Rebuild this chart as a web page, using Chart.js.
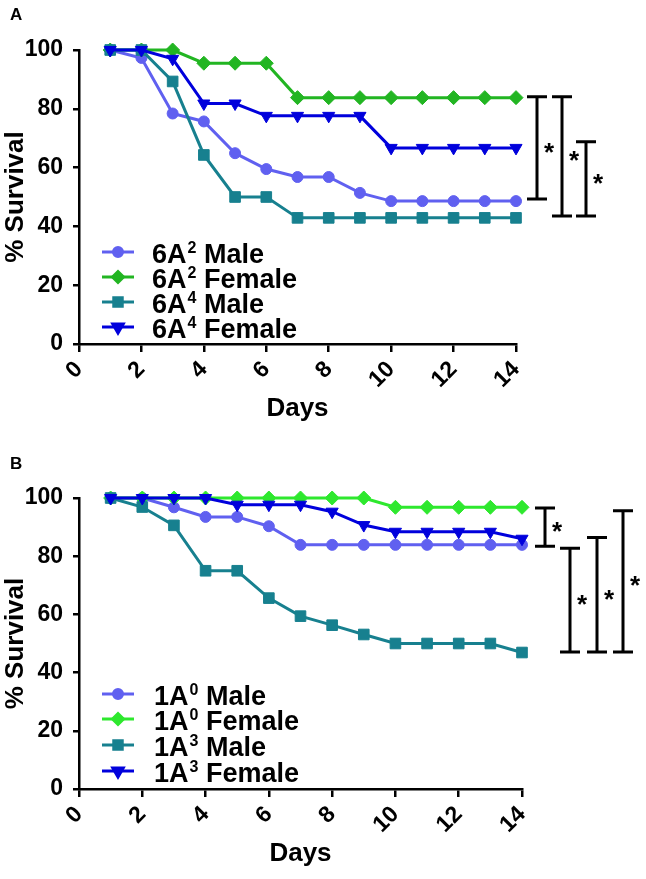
<!DOCTYPE html>
<html lang="en">
<head>
<meta charset="UTF-8">
<title>Survival - 6A and 1A lines</title>
<script src="https://cdn.jsdelivr.net/npm/chart.js"></script>
<style>
    body {
        margin: 0;
        background: #fff;
        width: 646px;
        height: 879px;
        position: relative;
        overflow: hidden;
        font-family: "Liberation Sans", Arial, sans-serif;
    }
    .panel { position: absolute; left: 0; width: 646px; }
    .letter {
        position: absolute;
        left: 10px;
        z-index: 2;
        font-weight: bold;
        font-size: 17px;
        line-height: 17px;
    }
</style>
</head>
<body>
<div class="panel" style="top:0;height:440px"><canvas id="chartA" width="646" height="440"></canvas></div>
<div class="panel" style="top:440px;height:439px"><canvas id="chartB" width="646" height="439"></canvas></div>
<div class="letter" style="top:6px">A</div>
<div class="letter" style="top:455px">B</div>

<script>
var FONT = '"Liberation Sans", Arial, sans-serif';

// days after infection
var days = [1, 2, 3, 4, 5, 6, 7, 8, 9, 10, 11, 12, 13, 14];

// panel A (% survival)
var a2Male   = [100, 97.3, 78.4, 75.7, 64.9, 59.5, 56.8, 56.8, 51.4, 48.6, 48.6, 48.6, 48.6, 48.6];
var a2Female = [100, 100, 100, 95.5, 95.5, 95.5, 83.8, 83.8, 83.8, 83.8, 83.8, 83.8, 83.8, 83.8];
var a4Male   = [100, 100, 89.3, 64.3, 50, 50, 42.9, 42.9, 42.9, 42.9, 42.9, 42.9, 42.9, 42.9];
var a4Female = [100, 100, 97, 81.8, 81.8, 77.6, 77.6, 77.6, 77.6, 66.7, 66.7, 66.7, 66.7, 66.7];
var legendA  = [['6A', '2', ' Male'], ['6A', '2', ' Female'], ['6A', '4', ' Male'], ['6A', '4', ' Female']];
// significance bars: [top, bottom] in % survival
var barsA = [[84.1, 49.3], [84.1, 43.5], [68.8, 43.5]];

// panel B (% survival)
var b0Male   = [100, 100, 96.8, 93.5, 93.5, 90.3, 83.9, 83.9, 83.9, 83.9, 83.9, 83.9, 83.9, 83.9];
var b0Female = [100, 100, 100, 100, 100, 100, 100, 100, 100, 96.8, 96.8, 96.8, 96.8, 96.8];
var b3Male   = [100, 96.9, 90.6, 75, 75, 65.6, 59.4, 56.3, 53.1, 50, 50, 50, 50, 46.9];
var b3Female = [100, 100, 100, 100, 97.7, 97.7, 97.7, 95.3, 90.7, 88.4, 88.4, 88.4, 88.4, 86.0];
var legendB  = [['1A', '0', ' Male'], ['1A', '0', ' Female'], ['1A', '3', ' Male'], ['1A', '3', ' Female']];
var barsB = [[96.6, 83.4], [82.7, 47.1], [86.4, 47.1], [95.6, 47.1]];

var styles = [
    { pointStyle: 'circle',   radius: 5.5, rotation: 0,   legendRadius: 4.5 },
    { pointStyle: 'rectRot',  radius: 7,   rotation: 0,   legendRadius: 5.5 },
    { pointStyle: 'rect',     radius: 7.5, rotation: 0,   legendRadius: 6 },
    { pointStyle: 'triangle', radius: 7,   rotation: 180, legendRadius: 6 }
];

function makeSeries(label, values, color, st, order) {
    return {
        label: label,
        data: days.map(function (d, i) { return { x: d, y: values[i] }; }),
        borderColor: color,
        backgroundColor: color,
        pointBackgroundColor: color,
        pointBorderColor: color,
        pointStyle: st.pointStyle,
        pointRadius: st.radius,
        pointRotation: st.rotation,
        pointBorderWidth: 1,
        borderWidth: 3,
        tension: 0,
        clip: false,
        order: order
    };
}

// legend drawn inside the plot, line + marker + label with superscript
var insideLegend = {
    id: 'insideLegend',
    afterDraw: function (chart) {
        var cfg = chart.options.plugins.insideLegend;
        var ctx = chart.ctx;
        ctx.save();
        chart.data.datasets.forEach(function (ds, i) {
            var y = cfg.rows[i];
            var st = styles[i];
            ctx.strokeStyle = ds.borderColor;
            ctx.fillStyle = ds.borderColor;
            ctx.lineWidth = 3;
            ctx.beginPath();
            ctx.moveTo(cfg.x1, y);
            ctx.lineTo(cfg.x2, y);
            ctx.stroke();
            Chart.helpers.drawPoint(ctx, {
                pointStyle: st.pointStyle, rotation: st.rotation,
                radius: st.legendRadius, borderWidth: 1
            }, (cfg.x1 + cfg.x2) / 2, y);

            var parts = cfg.labels[i];
            var base = y + 11;
            var tx = cfg.textX;
            ctx.fillStyle = '#000';
            ctx.textBaseline = 'alphabetic';
            ctx.textAlign = 'left';
            ctx.font = 'bold 27px ' + FONT;
            ctx.fillText(parts[0], tx, base);
            tx += ctx.measureText(parts[0]).width + 1;
            ctx.font = 'bold 16px ' + FONT;
            ctx.fillText(parts[1], tx, base - 10);
            tx += ctx.measureText(parts[1]).width;
            ctx.font = 'bold 27px ' + FONT;
            ctx.fillText(parts[2], tx, base);
        });
        ctx.restore();
    }
};

// significance bars to the right of the plot
var sigBars = {
    id: 'sigBars',
    afterDraw: function (chart) {
        var cfg = chart.options.plugins.sigBars;
        var ys = chart.scales.y;
        var ctx = chart.ctx;
        ctx.save();
        ctx.strokeStyle = '#000';
        ctx.fillStyle = '#000';
        ctx.lineWidth = 3;
        cfg.bars.forEach(function (b, i) {
            var x = chart.chartArea.right + cfg.offsets[i];
            var y1 = ys.getPixelForValue(b[0]);
            var y2 = ys.getPixelForValue(b[1]);
            ctx.beginPath();
            ctx.moveTo(x, y1); ctx.lineTo(x, y2);
            ctx.moveTo(x - 10, y1); ctx.lineTo(x + 10, y1);
            ctx.moveTo(x - 10, y2); ctx.lineTo(x + 10, y2);
            ctx.stroke();
            ctx.font = 'bold 26px ' + FONT;
            ctx.textAlign = 'center';
            ctx.textBaseline = 'alphabetic';
            ctx.fillText('*', x + 12, (y1 + y2) / 2 + 13);
        });
        ctx.restore();
    }
};

function makePanel(id, series, colors, legendLabels, bars, lay) {
    var ctx = document.getElementById(id).getContext('2d');
    var datasets = series.map(function (vals, i) {
        return makeSeries(legendLabels[i].join(''), vals, colors[i], styles[i], 4 - i);
    });
    var axisFont = { family: FONT, size: 23, weight: 'bold' };
    var titleFont = { family: FONT, size: 26, weight: 'bold' };
    return new Chart(ctx, {
        type: 'line',
        data: { datasets: datasets },
        options: {
            responsive: false,
            animation: false,
            layout: { padding: { top: lay.padTop, right: lay.padRight, left: 0, bottom: 0 } },
            plugins: {
                legend: { display: false },
                tooltip: { enabled: false },
                insideLegend: { rows: lay.legendRows, x1: 102, x2: 134, textX: lay.textX, labels: legendLabels },
                sigBars: { bars: bars, offsets: lay.barOffsets }
            },
            scales: {
                x: {
                    type: 'linear',
                    min: 0,
                    max: 14,
                    border: { display: true, color: '#000', width: 2.5 },
                    grid: { display: true, drawOnChartArea: false, drawTicks: true, tickLength: 8, color: '#000', lineWidth: 2.5 },
                    ticks: { stepSize: 2, autoSkip: false, minRotation: 45, maxRotation: 45, padding: 4, color: '#000', font: axisFont },
                    title: { display: true, text: 'Days', color: '#000', font: titleFont, padding: { top: 0, bottom: lay.xTitlePad } },
                    afterFit: function (s) { s.height = lay.xHeight; }
                },
                y: {
                    min: 0,
                    max: 100,
                    border: { display: true, color: '#000', width: 2.5 },
                    grid: { display: true, drawOnChartArea: false, drawTicks: true, tickLength: 6, color: '#000', lineWidth: 2.5 },
                    ticks: { stepSize: 20, padding: 10, color: '#000', font: axisFont },
                    title: { display: true, text: '% Survival', color: '#000', font: titleFont, padding: { top: 0, bottom: 0 } },
                    afterFit: function (s) { s.width = 79; }
                }
            }
        },
        plugins: [insideLegend, sigBars]
    });
}

makePanel('chartA',
    [a2Male, a2Female, a4Male, a4Female],
    ['#6060f0', '#22b522', '#17808f', '#0000dc'],
    legendA, barsA,
    { padTop: 50, padRight: 130, xHeight: 96, xTitlePad: 16, textX: 152,
      legendRows: [252, 277, 302, 327], barOffsets: [21, 46, 70] });

makePanel('chartB',
    [b0Male, b0Female, b3Male, b3Female],
    ['#6060f0', '#2ee82e', '#17808f', '#0000dc'],
    legendB, barsB,
    { padTop: 58, padRight: 124, xHeight: 90, xTitlePad: 10, textX: 154,
      legendRows: [254, 279, 305, 331], barOffsets: [23, 48, 75, 101] });
</script>
</body>
</html>
